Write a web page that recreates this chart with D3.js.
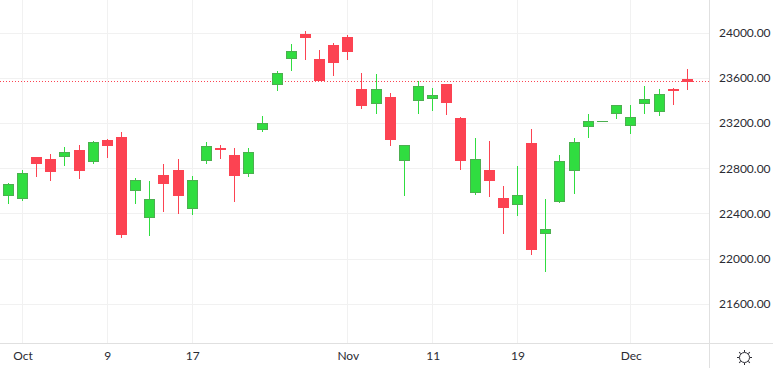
<!DOCTYPE html>
<html>
<head>
<meta charset="utf-8">
<script src="https://cdn.jsdelivr.net/npm/d3@7/dist/d3.min.js"></script>
<style>
html, body { margin:0; padding:0; background:#fff; overflow:hidden; }
text { font-family:Lato, sans-serif; font-size:12px; fill:#2b2b33; }
</style>
</head>
<body>
<div id="chart-area"></div>
<script>
let opens  = [22553,22526,22896,22884,22902,22964,22854,23055,23073,22597,22358,22742,22787,22438,22863,22984,22920,22748,23137,23536,23766,23985,23770,23896,23965,23498,23368,23433,22863,23394,23412,23548,23247,22580,22789,22539,22473,23026,22216,22500,22774,23164,23216,23279,23173,23368,23297,23498,23595];
let closes = [22663,22760,22836,22765,22946,22774,23035,23005,22208,22698,22530,22659,22553,22698,22999,22967,22730,22946,23203,23646,23841,23952,23578,23740,23828,23350,23504,23049,23008,23531,23451,23377,22863,22884,22695,22447,22565,22075,22264,22866,23035,23221,23216,23362,23256,23416,23460,23483,23571];
let highs  = [22674,22789,22905,22931,22990,23011,23044,23064,23126,22716,22692,22843,22887,22736,23037,23011,22984,22984,23268,23666,23905,24020,23852,23914,23985,23648,23640,23471,23012,23575,23513,23550,23259,23073,23046,22648,22825,23152,22533,22922,23073,23285,23222,23364,23365,23533,23507,23516,23684];
let lows   = [22488,22515,22730,22695,22827,22712,22845,22898,22190,22491,22208,22420,22402,22394,22845,22887,22509,22730,23129,23492,23669,23766,23575,23625,23766,23332,23288,23005,22562,23288,23315,23279,22792,22571,22553,22225,22385,22039,21889,22497,22580,23073,23215,23241,23111,23288,23270,23368,23501];

let priceTicks = [24000,23600,23200,22800,22400,22000,21600];
let dateTicks = [1,7,13,24,30,36,44];
let dateLabels = ["Oct","9","17","Nov","11","19","Dec"];

let width = 773, height = 368;
let plotW = 709, plotH = 343;

let svg = d3.select("#chart-area")
            .append("svg")
            .attr("width", width)
            .attr("height", height)
            .style("display", "block");

let x = d3.scaleLinear().domain([0, 48]).range([8.3, 687.3]);
let y = d3.scaleLinear().domain([21600, 24000]).range([304.3, 33.3]);

// snap to the pixel grid so the 1px lines stay sharp
let px = function(v){ return Math.floor(v) + 0.5; };

//grid
let grid = svg.append("g").attr("stroke", "#f1f1f1");
grid.selectAll(".h").data(priceTicks).enter().append("line")
    .attr("x1", 0).attr("x2", plotW)
    .attr("y1", d => px(y(d))).attr("y2", d => px(y(d)));
grid.selectAll(".v").data(dateTicks).enter().append("line")
    .attr("y1", 0).attr("y2", plotH)
    .attr("x1", d => px(x(d))).attr("x2", d => px(x(d)));

//last price line
let last = closes[closes.length - 1];
svg.append("line")
    .attr("x1", 0).attr("x2", plotW)
    .attr("y1", px(y(last))).attr("y2", px(y(last)))
    .attr("stroke", "#fc4352")
    .attr("stroke-dasharray", "1 2");

//candles
let green = "#30dd40", red = "#fc4352";
let candles = svg.selectAll(".candle")
    .data(d3.range(opens.length))
    .enter()
    .append("g")
    .attr("class", "candle");

candles.append("line")
    .attr("x1", d => px(x(d))).attr("x2", d => px(x(d)))
    .attr("y1", d => Math.round(y(highs[d])))
    .attr("y2", d => Math.round(y(lows[d])))
    .attr("stroke", d => closes[d] >= opens[d] ? green : red);

// a doji has no height left after the stroke, keep it as a thin line
candles.append("rect")
    .attr("x", d => px(x(d)) - 5)
    .attr("width", 10)
    .attr("y", d => px(y(Math.max(opens[d], closes[d]))))
    .attr("height", d => Math.max(0.01, Math.round(Math.abs(y(opens[d]) - y(closes[d]))) - 1))
    .attr("fill", d => closes[d] >= opens[d] ? green : red)
    .attr("stroke", d => closes[d] >= opens[d] ? "#4caf50" : red);

//axes
let yAxis = d3.axisRight(y)
    .tickValues(priceTicks)
    .tickSize(0)
    .tickPadding(10)
    .tickFormat(d3.format(".2f"));
let yG = svg.append("g")
    .attr("transform", "translate(" + plotW + ",0)")
    .attr("font-family", null)
    .attr("font-size", null)
    .call(yAxis);
yG.select(".domain").remove();
yG.selectAll("text").attr("dy", "0.27em");

let xAxis = d3.axisBottom(x)
    .tickValues(dateTicks)
    .tickSize(0)
    .tickPadding(6)
    .tickFormat(function(d, i){ return dateLabels[i]; });
let xG = svg.append("g")
    .attr("transform", "translate(0," + plotH + ")")
    .call(xAxis);
xG.select(".domain").remove();
xG.selectAll("text").attr("y", 13.5).attr("dy", "0").attr("dominant-baseline", "middle");
yG.attr("font-family", null).attr("font-size", null);
xG.attr("font-family", null).attr("font-size", null);

//borders
svg.append("line").attr("x1", 0).attr("x2", width).attr("y1", 343.5).attr("y2", 343.5).attr("stroke", "#e0e0e0");
svg.append("line").attr("x1", 709.5).attr("x2", 709.5).attr("y1", 0).attr("y2", height).attr("stroke", "#e0e0e0");

//settings icon
let icon = svg.append("g")
    .attr("transform", "translate(744.5,357.5)")
    .attr("fill", "none")
    .attr("stroke", "#2b2b33");
icon.append("circle").attr("r", 5);
icon.selectAll("line").data(d3.range(8)).enter().append("line")
    .attr("y1", -5.5).attr("y2", -7.5)
    .attr("transform", d => "rotate(" + d * 45 + ")");
</script>
</body>
</html>
